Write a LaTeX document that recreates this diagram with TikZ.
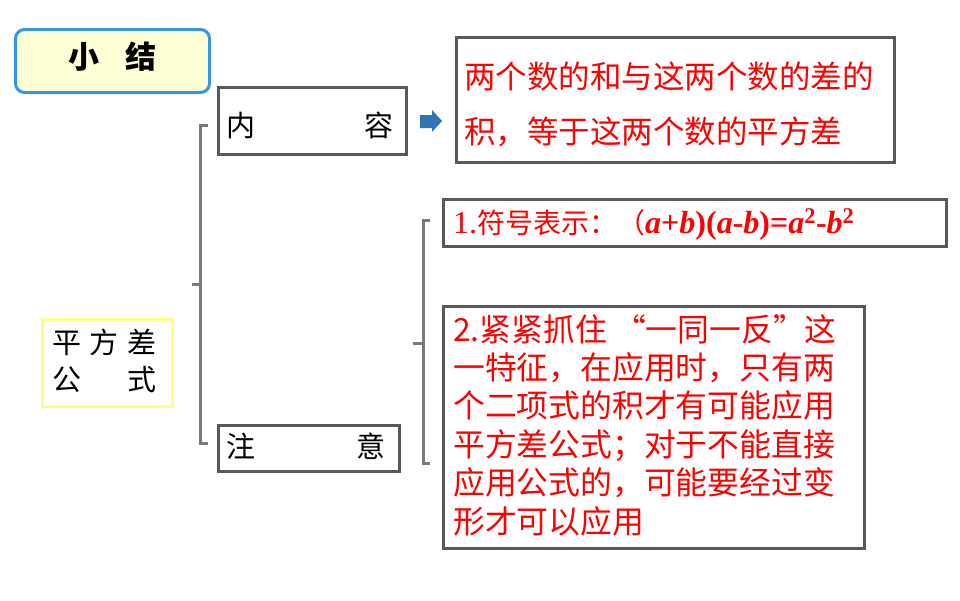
\documentclass[tikz,border=0pt]{standalone}
\usepackage{fontspec}
\setmainfont{Liberation Serif}
\newfontfamily\cjk{Noto Sans CJK SC}
\definecolor{boxgray}{HTML}{595959}
\definecolor{brgray}{HTML}{7A7A7A}
\definecolor{titleblue}{HTML}{3397E8}
\definecolor{titlefill}{HTML}{FFFFD6}
\definecolor{yelline}{HTML}{FFFF88}
\definecolor{arrowblue}{HTML}{2E75B6}
\definecolor{txtred}{HTML}{FF0000}
\begin{document}
\begin{tikzpicture}[x=1pt,y=-1pt,
  gbox/.style={draw=boxgray, line width=3pt, fill=white, anchor=north west, inner sep=0pt},
  brk/.style={draw=brgray, line width=3pt},
  lbl/.style={inner sep=0pt, font=\cjk\fontsize{29}{29}\selectfont, text=black},
  redtxt/.style={inner sep=0pt, text=txtred, anchor=north west, align=left}
]
\useasboundingbox (0,0) rectangle (960,600);
\fill[white] (0,0) rectangle (960,600);

% title
\node[draw=titleblue, line width=3pt, fill=titlefill, rounded corners=9pt,
  minimum width=194pt, minimum height=63pt, anchor=north west, inner sep=0pt] (xj) at (14,28) {};
\node[inner sep=0pt, font=\cjk\bfseries\fontsize{31}{31}\selectfont] (xjt) at (112.5,57) {小\hspace{27pt}结};

% left node
\node[draw=yelline, line width=3pt, minimum width=130pt, minimum height=87pt, anchor=north west, inner sep=0pt] (gs) at (41,318) {};
\node[lbl, align=center, font=\cjk\fontsize{29}{37}\selectfont] (gst) at (104.5,361) {平\hspace{9pt}方\hspace{9pt}差\\公\hspace{47pt}式};

% content / attention nodes
\node[gbox, minimum width=188pt, minimum height=67pt] (nr) at (217,86) {};
\node[lbl] (nrt) at (310,125) {内\hspace{109pt}容};
\node[gbox, minimum width=181pt, minimum height=46pt] (zy) at (217,424) {};
\node[lbl] (zyt) at (306,446) {注\hspace{101pt}意};

% definition
\node[gbox, minimum width=438pt, minimum height=125pt] (def) at (455,36) {};
\node[redtxt, font=\cjk\fontsize{31.5}{55}\selectfont] (deft) at (464,62)
  {两个数的和与这两个数的差的\\积，等于这两个数的平方差};

% arrow
\fill[arrowblue] (420,115) -- (432,115) -- (432,110) -- (442,121) -- (432,132) -- (432,128) -- (420,128) -- cycle;

% note 1
\node[gbox, minimum width=503pt, minimum height=47pt] (b1) at (442,198) {};
\node[inner sep=0pt, text=txtred, anchor=base west, font=\fontsize{32}{32}\selectfont] (b1t) at (453,233)
  {1.{\cjk\fontsize{28}{28}\selectfont 符号表示：（}\textbf{\textit{a}+\textit{b})(\textit{a}-\textit{b})=\textit{a}\textsuperscript{2}-\textit{b}\textsuperscript{2}}};

% note 2
\node[gbox, minimum width=421pt, minimum height=242pt] (b2) at (442,305) {};
\node[redtxt, font=\cjk\fontsize{31.8}{38.4}\selectfont] (b2t) at (453,314)
  {2.紧紧抓住 “一同一反”这\\一特征，在应用时，只有两\\个二项式的积才有可能应用\\平方差公式；对于不能直接\\应用公式的，可能要经过变\\形才可以应用};

% brackets
\coordinate (la) at (208,125);
\coordinate (lb) at (208,443);
\coordinate (lm) at (192,284);
\draw[brk] (la) -- (200,125) -- (200,443) -- (lb);
\draw[brk] (lm) -- (200,284);

\coordinate (ra) at (430,220);
\coordinate (rb) at (430,463);
\coordinate (rm) at (413,343);
\draw[brk] (ra) -- (423,220) -- (423,463) -- (rb);
\draw[brk] (rm) -- (423,343);
\end{tikzpicture}
\end{document}
